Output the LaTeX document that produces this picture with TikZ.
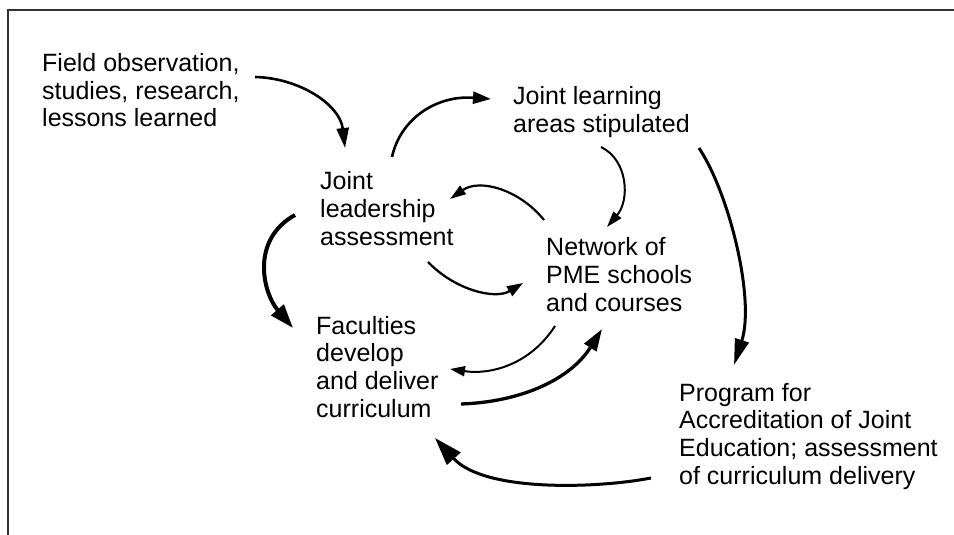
\documentclass[tikz,border=0pt]{standalone}
\usepackage{fontspec}
\setmainfont{Liberation Sans}
\usetikzlibrary{arrows.meta}
\begin{document}
\begin{tikzpicture}[x=1pt,y=-1pt,
  lbl/.style={anchor=base west, inner sep=0pt, align=left,
    font=\fontsize{25}{27.6}\selectfont},
  conn/.style n args={3}{line width=#1, line cap=butt,
    -{Triangle[length=#2,width=#3]}},
  frame/.style={line width=1.8pt, black!80}]
\useasboundingbox (0,0) rectangle (954,535);
\draw[frame] (954,10) -- (8,10) -- (8,535);

% base west = baseline of the last line
\node[lbl] (field) at (42,127) {Field observation,\\studies, research,\\lessons learned};
\node[lbl] (jla) at (320,245) {Joint\\leadership\\assessment};
\node[lbl] (jlearn) at (513,132) {Joint learning\\areas stipulated};
\node[lbl] (network) at (546,311) {Network of\\PME schools\\and courses};
\node[lbl] (fac) at (316,417) {Faculties\\develop\\and deliver\\curriculum};
\node[lbl] (prog) at (679,484) {Program for\\Accreditation of Joint\\Education; assessment\\of curriculum delivery};

% Field -> Joint leadership
\draw[conn={2.6pt}{20pt}{12pt}] ([shift={(213,-50)}]field.base west)
  .. controls +(45,1) and +(-5,-43) .. ([shift={(25,-97)}]jla.base west);
% Joint leadership -> Joint learning
\draw[conn={2.6pt}{18pt}{12pt}] ([shift={(72,-88)}]jla.base west)
  .. controls +(8,-37) and +(-56,-4) .. ([shift={(-22,-33)}]jlearn.base west);
% Joint learning -> Network
\draw[conn={2pt}{16pt}{10pt}] ([shift={(88,15)}]jlearn.base west)
  .. controls +(27,13) and +(23,-27) .. ([shift={(61,-84)}]network.base west);
% Network -> Joint leadership
\draw[conn={2.2pt}{16pt}{10pt}] ([shift={(-2,-91)}]network.base west)
  .. controls +(-24,-30) and +(30,-21) .. ([shift={(130,-46)}]jla.base west);
% Joint leadership -> Faculties
\draw[conn={4pt}{24pt}{16pt}] ([shift={(-25,-30)}]jla.base west)
  .. controls +(-45,25) and +(-30,-35) .. ([shift={(-23,-89)}]fac.base west);
% Joint leadership -> Network
\draw[conn={2.3pt}{16pt}{11pt}] ([shift={(108,17)}]jla.base west)
  .. controls +(27,28) and +(-28,17) .. ([shift={(-23,-28)}]network.base west);
% Network -> Faculties
\draw[conn={2pt}{15pt}{10pt}] ([shift={(9,15)}]network.base west)
  .. controls +(-25,39) and +(40,6) .. ([shift={(134,-48)}]fac.base west);
% Faculties -> Network
\draw[conn={3.3pt}{22pt}{14pt}] ([shift={(145,-13)}]fac.base west)
  .. controls +(59,-2) and +(-32,51) .. ([shift={(56,18)}]network.base west);
% Joint learning -> Program
\draw[conn={3pt}{26pt}{14pt}] ([shift={(186,16)}]jlearn.base west)
  .. controls +(31,47) and +(21,-65) .. ([shift={(55,-119)}]prog.base west);
% Program -> Faculties
\draw[conn={3pt}{28pt}{18pt}] ([shift={(-28,-6)}]prog.base west)
  .. controls +(-51,10) and +(50,55) .. ([shift={(119,21)}]fac.base west);
\end{tikzpicture}
\end{document}
